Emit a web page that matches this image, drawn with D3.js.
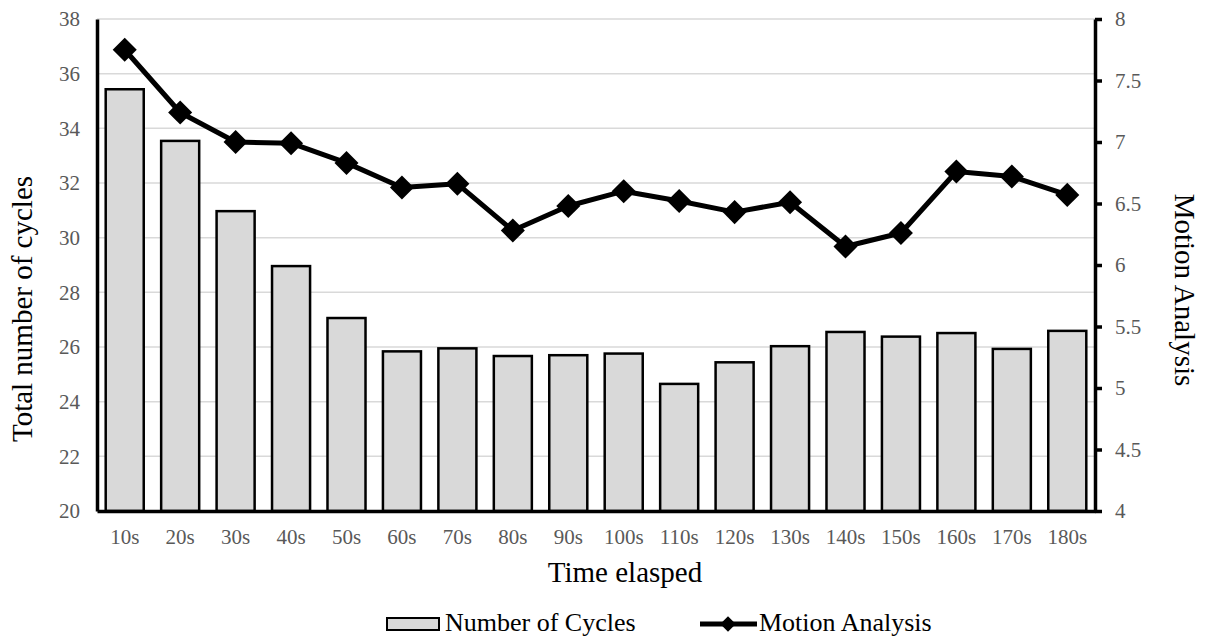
<!DOCTYPE html>
<html>
<head>
<meta charset="utf-8">
<script src="https://cdn.jsdelivr.net/npm/d3@7"></script>
<style>
  html, body { margin: 0; padding: 0; background: #fff; }
  svg { display: block; font-family: "Liberation Serif", "Times New Roman", serif; }
</style>
</head>
<body>
<svg id="chart" width="1210" height="641"></svg>
<script>
const categories = ["10s","20s","30s","40s","50s","60s","70s","80s","90s","100s","110s","120s","130s","140s","150s","160s","170s","180s"];
const cycles = [35.43, 33.54, 30.97, 28.96, 27.06, 25.84, 25.95, 25.67, 25.70, 25.76, 24.65, 25.44, 26.03, 26.55, 26.38, 26.51, 25.93, 26.59];
const motion = [7.75, 7.24, 7.00, 6.99, 6.83, 6.63, 6.66, 6.28, 6.48, 6.60, 6.52, 6.43, 6.51, 6.15, 6.26, 6.76, 6.72, 6.57];
const leftTicks = [20, 22, 24, 26, 28, 30, 32, 34, 36, 38];
const rightTicks = [4, 4.5, 5, 5.5, 6, 6.5, 7, 7.5, 8];
const seriesNames = ["Number of Cycles", "Motion Analysis"];
const titles = { x: "Time elasped", yLeft: "Total number of cycles", yRight: "Motion Analysis" };

const svg = d3.select("#chart");
const plot = { left: 97, right: 1095, top: 19, bottom: 511 };
const FONT = "Liberation Serif, Times New Roman, serif";

const x = d3.scaleBand().domain(categories).range([plot.left, plot.right])
  .paddingInner(0.314).paddingOuter(0.157);
const yL = d3.scaleLinear().domain([20, 38]).range([plot.bottom, plot.top]);
const yR = d3.scaleLinear().domain([4, 8]).range([plot.bottom, plot.top]);

// gridlines
svg.append("g").selectAll("line").data(leftTicks.slice(1)).join("line")
  .attr("x1", plot.left).attr("x2", plot.right)
  .attr("y1", d => yL(d)).attr("y2", d => yL(d))
  .attr("stroke", "#d9d9d9").attr("stroke-width", 1.5);

// bars
svg.append("g").selectAll("rect").data(categories).join("rect")
  .attr("x", d => x(d))
  .attr("width", x.bandwidth())
  .attr("y", (d, i) => yL(cycles[i]))
  .attr("height", (d, i) => yL(20) - yL(cycles[i]))
  .attr("fill", "#d9d9d9").attr("stroke", "#000").attr("stroke-width", 2.5);

// left axis
const gL = svg.append("g").attr("transform", `translate(${plot.left},0)`)
  .call(d3.axisLeft(yL).tickValues(leftTicks).tickSize(0).tickPadding(17).tickFormat(d3.format("d")));
gL.select(".domain").attr("stroke", "#000").attr("stroke-width", 3.5);
gL.selectAll("text").attr("font-size", 21).attr("fill", "#595959").attr("font-family", FONT);

// right axis
const gR = svg.append("g").attr("transform", `translate(${plot.right},0)`)
  .call(d3.axisRight(yR).tickValues(rightTicks).tickSizeInner(7).tickSizeOuter(0).tickPadding(13).tickFormat(d => String(d)));
gR.select(".domain").attr("stroke", "#000").attr("stroke-width", 3.5);
gR.selectAll(".tick line").attr("stroke", "#000").attr("stroke-width", 3.5);
gR.selectAll("text").attr("font-size", 21).attr("fill", "#595959").attr("font-family", FONT);

// bottom axis
const gB = svg.append("g").attr("transform", `translate(0,${plot.bottom})`)
  .call(d3.axisBottom(x).tickSize(0).tickPadding(18));
gB.select(".domain").attr("stroke", "#000").attr("stroke-width", 3.5);
gB.selectAll("text").attr("font-size", 21).attr("fill", "#595959").attr("font-family", FONT);

// line
const cx = d => x(d) + x.bandwidth() / 2;
const line = d3.line().x((d, i) => cx(categories[i])).y(d => yR(d));
svg.append("path").datum(motion).attr("d", line)
  .attr("fill", "none").attr("stroke", "#000").attr("stroke-width", 5).attr("stroke-linejoin", "round");

const diamond = d3.symbol().type(d3.symbolSquare).size(17 * 17);
svg.append("g").selectAll("path").data(motion).join("path")
  .attr("d", diamond)
  .attr("transform", (d, i) => `translate(${cx(categories[i])},${yR(d)}) rotate(45)`)
  .attr("fill", "#000");

// titles
svg.append("text").attr("x", 625).attr("y", 582).attr("text-anchor", "middle")
  .attr("font-size", 29).attr("fill", "#000").text(titles.x);
svg.append("text").attr("transform", "translate(32,309) rotate(-90)").attr("text-anchor", "middle")
  .attr("font-size", 29).attr("fill", "#000").text(titles.yLeft);
svg.append("text").attr("transform", "translate(1175,290) rotate(90)").attr("text-anchor", "middle")
  .attr("font-size", 29).attr("fill", "#000").text(titles.yRight);

// legend
const lg = svg.append("g");
lg.append("rect").attr("x", 387).attr("y", 618).attr("width", 52).attr("height", 12)
  .attr("fill", "#d9d9d9").attr("stroke", "#000").attr("stroke-width", 2);
lg.append("text").attr("x", 445).attr("y", 631).attr("font-size", 26).attr("fill", "#000").text(seriesNames[0]);
lg.append("line").attr("x1", 700).attr("x2", 757).attr("y1", 624).attr("y2", 624)
  .attr("stroke", "#000").attr("stroke-width", 5);
lg.append("path").attr("d", d3.symbol().type(d3.symbolSquare).size(11 * 11))
  .attr("transform", "translate(728,624) rotate(45)").attr("fill", "#000");
lg.append("text").attr("x", 759).attr("y", 631).attr("font-size", 26).attr("fill", "#000").text(seriesNames[1]);
</script>
</body>
</html>
